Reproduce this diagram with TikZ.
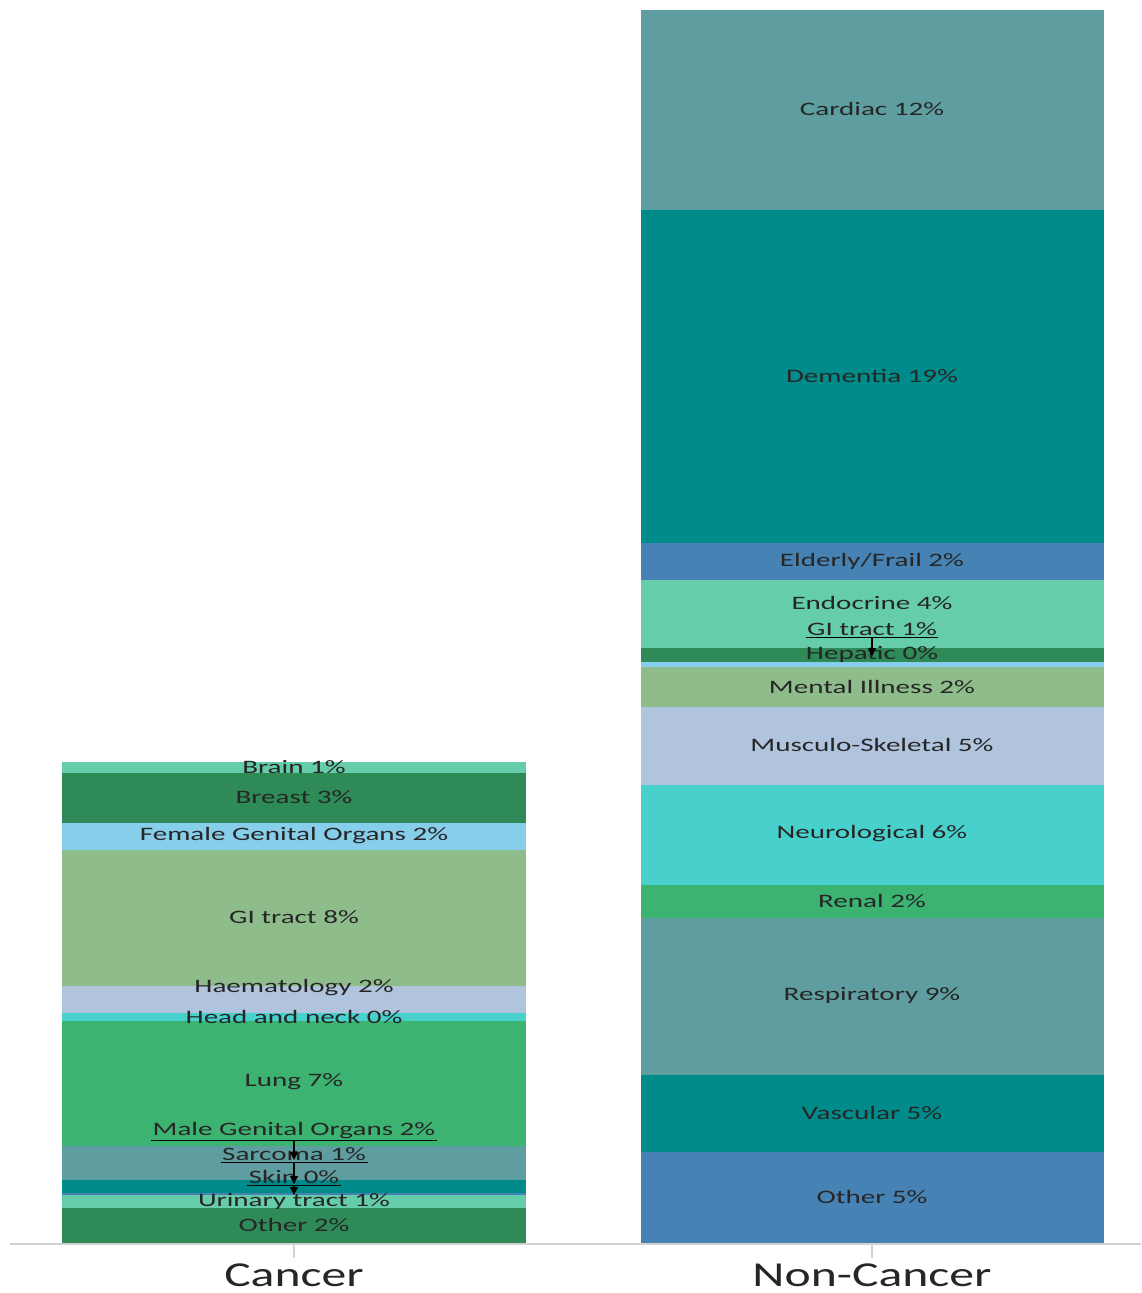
\documentclass[tikz,border=0pt]{standalone}
\usepackage{fontspec}
\setmainfont{Carlito}[FakeStretch=1.53]
\newfontfamily\axisfont{Carlito}[FakeStretch=1.42]
\usepackage{tikz}
\usetikzlibrary{positioning,arrows.meta,calc}
\definecolor{cadet}{HTML}{5F9EA0}
\definecolor{dcyan}{HTML}{008B8B}
\definecolor{steel}{HTML}{4682B4}
\definecolor{aqua}{HTML}{66CDAA}
\definecolor{sea}{HTML}{2E8B57}
\definecolor{sky}{HTML}{87CEEB}
\definecolor{dsea}{HTML}{8FBC8B}
\definecolor{lsteel}{HTML}{B0C4DE}
\definecolor{turq}{HTML}{48D1CC}
\definecolor{msea}{HTML}{3CB371}

\begin{document}
\begin{tikzpicture}[x=1pt,y=-1pt,
  lab/.style={font=\fontsize{19}{22}\selectfont, text=black!85, inner sep=1.5pt},
  axlab/.style={font=\axisfont\fontsize{35}{38}\selectfont, text=black!85, anchor=base, text depth=0pt, inner sep=1pt},
  lead/.style={-{Triangle[length=8pt,width=8pt]}, line width=1.1pt}]
\useasboundingbox (0,0) rectangle (1141,1293);

% Cancer
\fill[aqua] (62,762) rectangle (526,773);
\fill[sea] (62,773) rectangle (526,823);
\fill[sky] (62,823) rectangle (526,850);
\fill[dsea] (62,850) rectangle (526,986);
\fill[lsteel] (62,986) rectangle (526,1013);
\fill[turq] (62,1013) rectangle (526,1021);
\fill[msea] (62,1021) rectangle (526,1146);
\fill[cadet] (62,1146) rectangle (526,1180);
\fill[dcyan] (62,1180) rectangle (526,1193);
\fill[steel] (62,1193) rectangle (526,1195);
\fill[aqua] (62,1195) rectangle (526,1208);
\fill[sea] (62,1208) rectangle (526,1243);

\node[lab] (brain) at (294,767) {Brain 1\%};
\node[lab] (breast) at (294,797) {Breast 3\%};
\node[lab] (female) at (294,836) {Female Genital Organs 2\%};
\node[lab] (gic) at (294,917) {GI tract 8\%};
\node[lab] (haem) at (294,988) {Haematology 2\%};
\node[lab] (head) at (294,1017) {Head and neck 0\%};
\node[lab] (lung) at (294,1082) {Lung 7\%};
\node[lab] (male) at (294,1131) {Male Genital Organs 2\%};
\node[lab] (sarc) at (294,1154) {Sarcoma 1\%};
\node[lab] (skin) at (294,1177) {Skin 0\%};
\node[lab] (urin) at (294,1201) {Urinary tract 1\%};
\node[lab] (othc) at (294,1225) {Other 2\%};

\coordinate (malep) at (294,1160);
\coordinate (sarcp) at (294,1184);
\coordinate (skinp) at (294,1195);
\draw[line width=1.1pt] (male.south west) -- (male.south east);
\draw[line width=1.1pt] (sarc.south west) -- (sarc.south east);
\draw[line width=1.1pt] (skin.south west) -- (skin.south east);
\draw[lead] (male.south) -- (malep);
\draw[lead] (sarc.south) -- (sarcp);
\draw[lead] (skin.south) -- (skinp);

% Non-Cancer
\fill[cadet] (641,10) rectangle (1104,210);
\fill[dcyan] (641,210) rectangle (1104,543);
\fill[steel] (641,543) rectangle (1104,580);
\fill[aqua] (641,580) rectangle (1104,648);
\fill[sea] (641,648) rectangle (1104,662);
\fill[sky] (641,662) rectangle (1104,667);
\fill[dsea] (641,667) rectangle (1104,707);
\fill[lsteel] (641,707) rectangle (1104,785);
\fill[turq] (641,785) rectangle (1104,885);
\fill[msea] (641,885) rectangle (1104,918);
\fill[cadet] (641,918) rectangle (1104,1075);
\fill[dcyan] (641,1075) rectangle (1104,1152);
\fill[steel] (641,1152) rectangle (1104,1243);

\node[lab] (card) at (872,109) {Cardiac 12\%};
\node[lab] (dem) at (872,376) {Dementia 19\%};
\node[lab] (eld) at (872,561) {Elderly/Frail 2\%};
\node[lab] (endo) at (872,603) {Endocrine 4\%};
\node[lab] (gin) at (872,629) {GI tract 1\%};
\node[lab] (hep) at (872,654) {Hepatic 0\%};
\node[lab] (ment) at (872,687) {Mental Illness 2\%};
\node[lab] (musc) at (872,745) {Musculo-Skeletal 5\%};
\node[lab] (neur) at (872,834) {Neurological 6\%};
\node[lab] (ren) at (872,901) {Renal 2\%};
\node[lab] (resp) at (872,995) {Respiratory 9\%};
\node[lab] (vasc) at (872,1113) {Vascular 5\%};
\node[lab] (othn) at (872,1197) {Other 5\%};

\coordinate (ginp) at (872,656);
\draw[line width=1.1pt] (gin.south west) -- (gin.south east);
\draw[lead] (gin.south) -- (ginp);

% axis
\coordinate (axl) at (10,1244);
\coordinate (axr) at (1141,1244);
\coordinate (tkc) at (294,1258);
\coordinate (tkn) at (872,1258);
\draw[gray!35, line width=1.5pt] (axl) -- (axr);
\draw[gray!35, line width=1.5pt] (tkc |- axl) -- (tkc);
\draw[gray!35, line width=1.5pt] (tkn |- axl) -- (tkn);
\node[axlab] (canc) at (294,1286) {Cancer};
\node[axlab] (nonc) at (872,1286) {Non-Cancer};
\end{tikzpicture}
\end{document}
